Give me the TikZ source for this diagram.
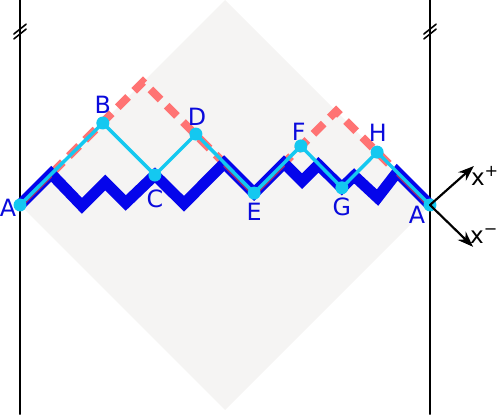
\documentclass[tikz,border=0pt]{standalone}
\usepackage{fontspec}
\setmainfont{DejaVu Sans}
\usetikzlibrary{arrows.meta}
\definecolor{bgray}{RGB}{245,244,243}
\definecolor{salmon}{RGB}{255,115,115}
\definecolor{zigblue}{RGB}{5,5,235}
\definecolor{pathcyan}{RGB}{20,200,240}
\definecolor{overlap}{RGB}{150,40,120}
\definecolor{lblblue}{RGB}{10,10,220}
\begin{document}
\begin{tikzpicture}[>={Stealth[length=11pt,width=8pt]}, line join=round, line cap=round,
  dot/.style={circle, fill=pathcyan, inner sep=0pt, minimum size=9pt},
  lbl/.style={text=lblblue, font=\fontsize{16.5}{20}\selectfont, inner sep=0pt},
  axlbl/.style={font=\fontsize{16}{19}\selectfont, inner sep=0pt},
  wall/.style={line width=1.2pt},
  breakmark/.style={line width=1.1pt}]
\useasboundingbox (-0.488,-5.098) rectangle (11.683,5);
\fill[bgray] (0,0) -- (5,5) -- (10,0) -- (5,-5) -- cycle;
\draw[wall] (0,5) -- (0,-5.1);
\draw[wall] (10,5) -- (10,-5.1);
\foreach \xw in {0,10} {
  \draw[breakmark] (\xw-0.15,4.17) -- (\xw+0.15,4.41);
  \draw[breakmark] (\xw-0.15,4.05) -- (\xw+0.15,4.29);
}
\coordinate (A) at (0,0);
\coordinate (B) at (2.02,2.0);
\coordinate (C) at (3.29,0.73);
\coordinate (D) at (4.29,1.73);
\coordinate (E) at (5.71,0.29);
\coordinate (F) at (6.85,1.44);
\coordinate (G) at (7.85,0.42);
\coordinate (H) at (8.71,1.29);
\coordinate (A2) at (10,0);
\coordinate (peakL) at (3,3);
\coordinate (peakR) at (7.71,2.29);
\coordinate (z1) at (0.76,0.76);
\coordinate (z2) at (1.51,-0.02);
\coordinate (z3) at (2.08,0.55);
\coordinate (z4) at (2.58,0.05);
\coordinate (z5) at (4.0,0.03);
\coordinate (z6) at (4.98,1.02);
\coordinate (z7) at (6.44,1.02);
\coordinate (z8) at (6.88,0.58);
\coordinate (z9) at (7.28,0.98);
\coordinate (z10) at (8.15,0.71);
\coordinate (z11) at (8.72,0.18);
\coordinate (z12) at (9.2,0.8);
\draw[salmon, line width=5.5pt, dash pattern=on 10pt off 6pt, line cap=butt, line join=miter] (A) -- (peakL) -- (E) -- (peakR) -- (A2);
\draw[zigblue, line width=7.7pt, line join=miter] (A) -- (z1) -- (z2) -- (z3) -- (z4) -- (C) -- (z5) -- (z6) -- (E) -- (z7) -- (z8) -- (z9) -- (G) -- (z10) -- (z11) -- (z12) -- (A2);
\draw[overlap, line width=1.4pt, transform canvas={yshift=-2pt}] (A) -- (z1) (z6) -- (E) -- (z7) (z12) -- (A2);
\draw[pathcyan, line width=2.4pt] (A) -- (B) -- (C) -- (D) -- (E) -- (F) -- (G) -- (H) -- (A2);
\foreach \p in {A,B,C,D,E,F,G,H,A2}
  \node[dot] (d\p) at (\p) {};
\node[lbl] (lA) at (-0.29,-0.07) {A};
\node[lbl] (lB) at (2.02,2.44) {B};
\node[lbl] (lC) at (3.29,0.15) {C};
\node[lbl] (lD) at (4.32,2.15) {D};
\node[lbl] (lE) at (5.71,-0.17) {E};
\node[lbl] (lF) at (6.8,1.78) {F};
\node[lbl] (lG) at (7.85,-0.05) {G};
\node[lbl] (lH) at (8.73,1.76) {H};
\node[lbl] (lA2) at (9.68,-0.24) {A};
\coordinate (xp) at (11.07,0.95);
\coordinate (xm) at (11.05,-1.02);
\draw[->, line width=1.5pt] (A2) -- (xp);
\draw[->, line width=1.5pt] (A2) -- (xm);
\node[axlbl] (lxp) at (11.34,0.72) {x\textsuperscript{+}};
\node[axlbl] (lxm) at (11.32,-0.76) {x\textsuperscript{−}};
\end{tikzpicture}
\end{document}
